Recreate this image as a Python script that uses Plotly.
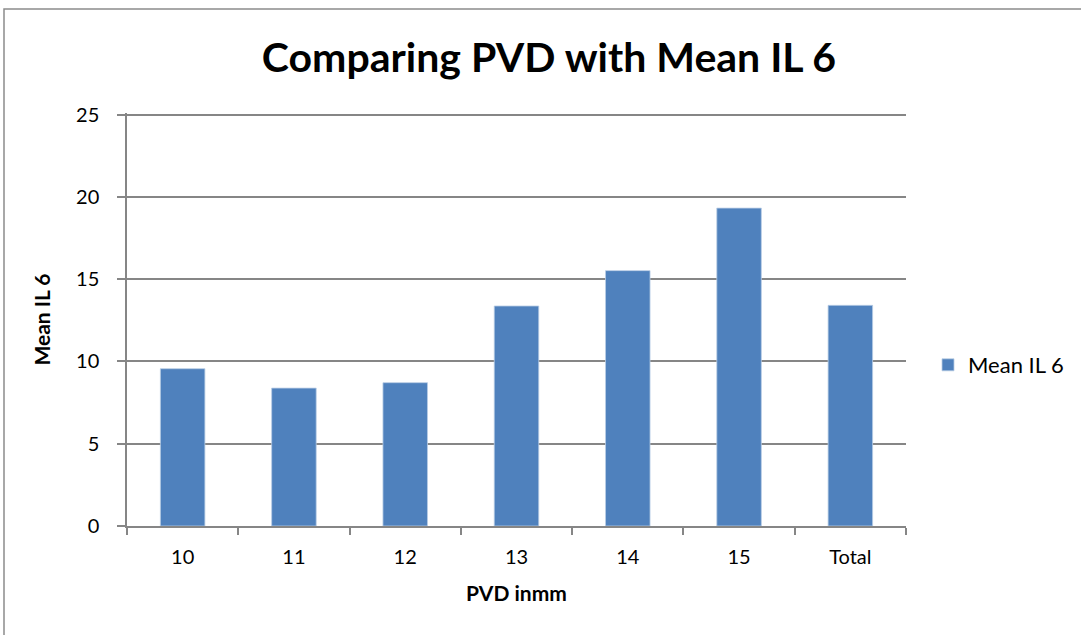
import plotly.graph_objects as go

categories = ["10", "11", "12", "13", "14", "15", "Total"]
mean_il6 = [9.56, 8.38, 8.71, 13.37, 15.52, 19.32, 13.41]

FONT = "Lato"
GRID = "#868686"

fig = go.Figure()
fig.add_trace(go.Bar(
    x=categories,
    y=mean_il6,
    name="Mean IL 6",
    marker=dict(color="#4F81BD", line=dict(color="#B9CDE5", width=0.8)),
    width=0.4,
))

W, H = 1081, 635
L, R, T, B = 127, 175, 113, 109
pw, ph = W - L - R, H - T - B

# outer chart frame, in paper coordinates of the plotting area
fig.add_shape(
    type="rect", xref="paper", yref="paper",
    x0=(4 - L) / pw, x1=(W + 20 - L) / pw,
    y0=-(B + 20) / ph, y1=(H - B - 9) / ph,
    line=dict(color="#8C8C8C", width=1.5), fillcolor="rgba(0,0,0,0)",
    layer="below",
)

fig.update_layout(
    width=W, height=H,
    margin=dict(l=L, r=R, t=T, b=B),
    paper_bgcolor="white", plot_bgcolor="white",
    font=dict(family=FONT, color="black", size=20),
    title=dict(
        text="<b>Comparing PVD with Mean IL 6</b>",
        x=549 / W, xanchor="center",
        y=1 - 58 / H, yanchor="middle",
        font=dict(family=FONT, size=41, color="black"),
    ),
    showlegend=True,
    legend=dict(
        x=(928 - L) / pw, xanchor="left",
        y=(H - B - 365) / ph, yanchor="middle",
        font=dict(family=FONT, size=22, color="black"),
        bgcolor="rgba(0,0,0,0)",
        itemwidth=30,
    ),
    bargap=0.6,
)

fig.update_xaxes(
    type="category",
    showline=True, linecolor=GRID, linewidth=1.5,
    ticks="outside", tickson="boundaries", ticklen=7, tickcolor=GRID, tickwidth=1.5,
    tickfont=dict(family=FONT, size=20, color="black"),
    ticklabelstandoff=12,
    showgrid=False,
    title=dict(text="<b>PVD inmm</b>", font=dict(family=FONT, size=21, color="black"), standoff=20),
)
fig.update_yaxes(
    range=[0, 25.1], tickvals=[0, 5, 10, 15, 20, 25],
    showline=True, linecolor=GRID, linewidth=1.5,
    ticks="outside", ticklen=8, tickcolor=GRID, tickwidth=1.5,
    tickfont=dict(family=FONT, size=20, color="black"),
    ticklabelstandoff=14,
    showgrid=True, gridcolor=GRID, gridwidth=1.5,
    zeroline=False,
    title=dict(text="<b>Mean IL 6</b>", font=dict(family=FONT, size=21, color="black"), standoff=20),
)

fig.write_html("out.html")
